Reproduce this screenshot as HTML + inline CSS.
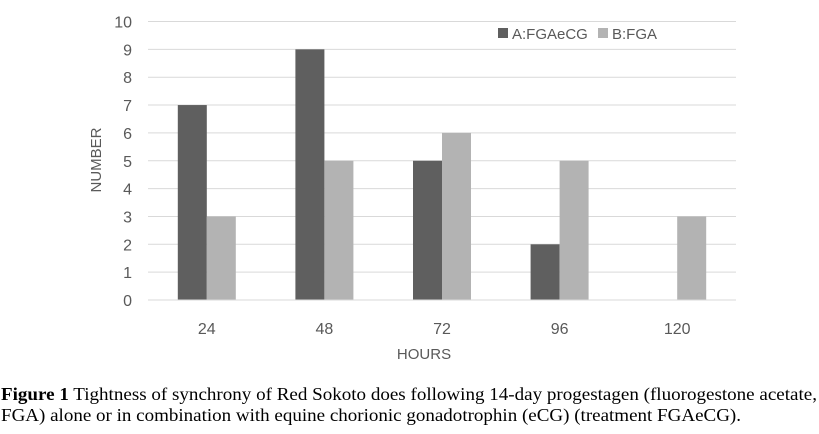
<!DOCTYPE html>
<html><head><meta charset="utf-8"><style>
body{margin:0;background:#fff;width:819px;height:429px;overflow:hidden}
svg text{font-family:"Liberation Sans",sans-serif}
</style></head><body>
<svg id="c" width="819" height="429" xmlns="http://www.w3.org/2000/svg">
<g id="grid"></g>
<g id="bars"></g>
<g id="ticks"></g>
<text x="424" y="359" font-size="15" fill="#595959" text-anchor="middle">HOURS</text>
<text transform="translate(101,160) rotate(-90)" font-size="15" fill="#595959" text-anchor="middle">NUMBER</text>
<g>
<rect x="498" y="28" width="10" height="10" fill="#5f5f5f"/>
<text x="512" y="39" font-size="15" fill="#595959">A:FGAeCG</text>
<rect x="598" y="28" width="10" height="10" fill="#b3b3b3"/>
<text x="612" y="39" font-size="15" fill="#595959">B:FGA</text>
</g>
<g>
<text x="1" y="400" font-size="18" textLength="816" lengthAdjust="spacingAndGlyphs" style="font-family:'Liberation Serif',serif"><tspan font-weight="bold">Figure 1</tspan> Tightness of synchrony of Red Sokoto does following 14-day progestagen (fluorogestone acetate,</text>
<text x="1" y="421" font-size="18" textLength="740" lengthAdjust="spacingAndGlyphs" style="font-family:'Liberation Serif',serif">FGA) alone or in combination with equine chorionic gonadotrophin (eCG) (treatment FGAeCG).</text>
</g>
</svg>
<script>
const categories=["24","48","72","96","120"];
const seriesA=[7,9,5,2,0];
const seriesB=[3,5,6,5,3];
const yTicks=[0,1,2,3,4,5,6,7,8,9,10];
const NS="http://www.w3.org/2000/svg";
const x0=148,x1=736,y0=300,y10=21.5;
const band=(x1-x0)/categories.length;
function xc(i){return x0+band*(i+0.5);}
function ys(v){return y0-(y0-y10)*v/10;}
function mk(t,a,p){const e=document.createElementNS(NS,t);for(const k in a)e.setAttribute(k,a[k]);document.getElementById(p).appendChild(e);return e;}
yTicks.forEach(v=>{
 const l=mk('line',{x1:x0,x2:x1,y1:ys(v),y2:ys(v),stroke:'#d9d9d9','stroke-width':1},'grid');
 
 
 const t=mk('text',{x:132,y:ys(v)+6,'font-size':16,fill:'#595959','text-anchor':'end'},'ticks');
 t.textContent=v;
 
 
});
categories.forEach((c,i)=>{
 const w=29;
 const a=mk('rect',{x:xc(i)-w,y:ys(seriesA[i]),width:w,height:ys(0)-ys(seriesA[i]),fill:'#5f5f5f'},'bars');
 
 
 const b=mk('rect',{x:xc(i),y:ys(seriesB[i]),width:w,height:ys(0)-ys(seriesB[i]),fill:'#b3b3b3'},'bars');
 
 
 const t=mk('text',{x:xc(i),y:ys(0)+34,'font-size':16,fill:'#595959','text-anchor':'middle'},'ticks');
 t.textContent=c;
 
 
});
mk('line',{x1:x0,x2:x1,y1:y0,y2:y0,stroke:'#d9d9d9'},'ticks');
</script>
</body></html>
